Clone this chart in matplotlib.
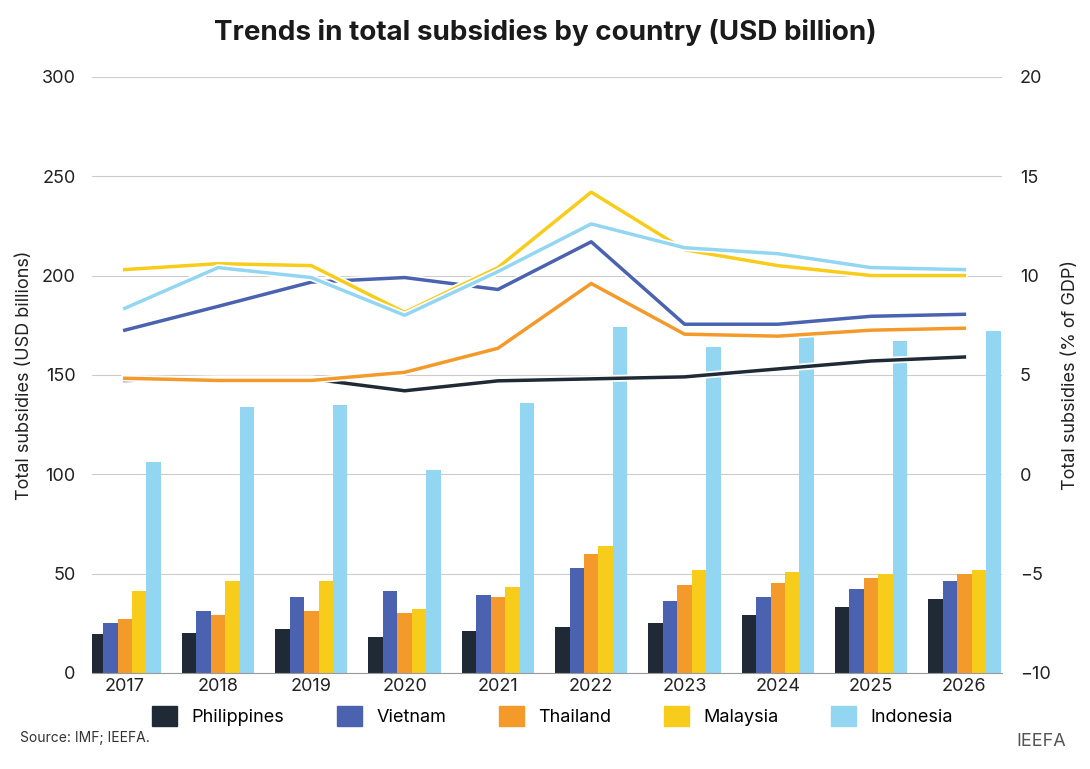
import matplotlib
matplotlib.use("Agg")
import matplotlib.pyplot as plt
import matplotlib.patheffects as pe
import numpy as np

plt.rcParams['font.family'] = ['Inter', 'DejaVu Sans']

years = ['2017','2018','2019','2020','2021','2022','2023','2024','2025','2026']
countries = ['Philippines','Vietnam','Thailand','Malaysia','Indonesia']
colors = ['#1f2a36','#4a62b0','#f39a2b','#f8cc1b','#93d6f2']

usd_philippines = [19.7,20,22,18,21,23,25,29,33,37]
usd_vietnam = [25,31,38,41,39,53,36,38,42,46]
usd_thailand = [27,29,31,30,38,60,44,45,48,50]
usd_malaysia = [41,46,46,32,43,64,52,51,50,52]
usd_indonesia = [106,134,135,102,136,174,164,170,167,172]

gdp_philippines = [4.72,4.8,4.8,4.2,4.7,4.8,4.9,5.3,5.7,5.9]
gdp_vietnam = [7.25,8.45,9.67,9.9,9.3,11.7,7.55,7.55,7.95,8.05]
gdp_thailand = [4.83,4.72,4.72,5.13,6.34,9.6,7.05,6.95,7.25,7.35]
gdp_malaysia = [10.3,10.6,10.5,8.15,10.4,14.2,11.3,10.5,10.0,10.0]
gdp_indonesia = [8.35,10.4,9.9,8.0,10.2,12.6,11.4,11.1,10.4,10.3]

bars = [usd_philippines, usd_vietnam, usd_thailand, usd_malaysia, usd_indonesia]
lines = [gdp_philippines, gdp_vietnam, gdp_thailand, gdp_malaysia, gdp_indonesia]

fig = plt.figure(figsize=(10.9, 7.69), dpi=100)
ax = fig.add_axes([0.0845, 0.125, 0.8345, 0.775])
x = np.arange(len(years))
w = 0.155
for i, (vals, c) in enumerate(zip(bars, colors)):
    ax.bar(x + (i - 2) * w, vals, w, color=c, label=countries[i], zorder=2)
ax.set_ylim(0, 300)
ax.set_yticks(range(0, 301, 50))
ax.set_xlim(-0.35, 9.4)
ax.set_xticks(x)
ax.set_xticklabels(years)
ax.grid(axis='y', color='#cccccc', lw=0.8, zorder=0)
for s in ['top', 'right', 'left']:
    ax.spines[s].set_visible(False)
ax.spines['bottom'].set_color('#999999')
ax.tick_params(length=0, labelsize=13, colors='#222222')
ax.tick_params(axis='y', pad=12)
ax.set_ylabel('Total subsidies (USD billions)', fontsize=13, color='#222222', labelpad=6)

ax2 = ax.twinx()
ax2.set_ylim(-10, 20)
ax2.set_yticks(range(-10, 21, 5))
for s in ax2.spines.values():
    s.set_visible(False)
ax2.tick_params(length=0, labelsize=13, colors='#222222', pad=13)
ax2.set_ylabel('Total subsidies (% of GDP)', fontsize=13, color='#222222', labelpad=8)
for vals, c in zip(lines, colors):
    ax2.plot(x, vals, color=c, lw=2.5, zorder=3,
             path_effects=[pe.Stroke(linewidth=5, foreground='white'), pe.Normal()])

handles = [plt.Rectangle((0, 0), 1, 1, color=c) for c in colors]
fig.legend(handles, countries, loc='center', bbox_to_anchor=(0.507, 0.069), ncol=5,
           frameon=False, fontsize=13, handlelength=1.4, handleheight=1.3, columnspacing=2.9)

fig.suptitle('Trends in total subsidies by country (USD billion)', fontsize=20,
             fontweight='bold', y=0.975, color='#1a1a1a')
fig.text(0.018, 0.035, 'Source: IMF; IEEFA.', fontsize=10, color='#333333')
fig.text(0.978, 0.03, 'IEEFA', fontsize=13, color='#555555', ha='right')
fig.savefig('out.png', dpi=100)
